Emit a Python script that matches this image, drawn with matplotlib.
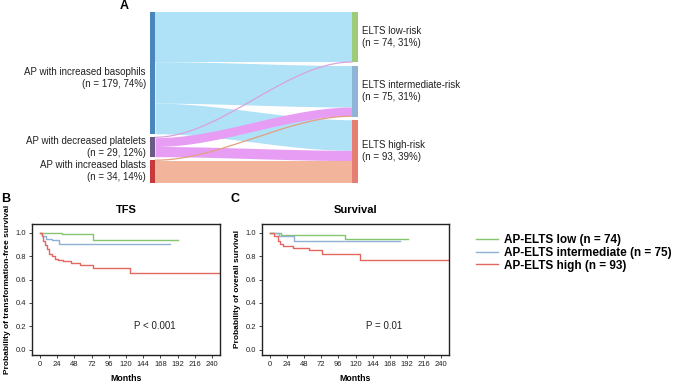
import numpy as np
import matplotlib
matplotlib.use('Agg')
import matplotlib.pyplot as plt

plt.rcParams['font.family'] = ['Liberation Sans', 'DejaVu Sans']

# Sankey data (panel A)
sources = ['AP with increased basophils', 'AP with decreased platelets', 'AP with increased blasts']
source_n = [179, 29, 34]
source_pct = [74, 12, 14]
targets = ['ELTS low-risk', 'ELTS intermediate-risk', 'ELTS high-risk']
target_n = [74, 75, 93]
target_pct = [31, 31, 39]
# flows[source][target]
flows = [[73, 61, 45],
         [1, 13, 15],
         [0, 1, 33]]

# Kaplan-Meier curves (months, probability)
tfs_low_t = [0, 31, 74, 192]
tfs_low_s = [1.0, 0.986, 0.94, 0.94]
tfs_int_t = [0, 3, 8, 17, 27, 182]
tfs_int_s = [1.0, 0.97, 0.95, 0.935, 0.90, 0.90]
tfs_high_t = [0, 2.8, 4.6, 6.5, 9.3, 13, 16.7, 20.9, 25.6, 32.6, 44, 56, 74, 126, 251]
tfs_high_s = [1.0, 0.97, 0.93, 0.895, 0.857, 0.82, 0.80, 0.78, 0.765, 0.757, 0.743, 0.726, 0.70, 0.655, 0.655]

os_low_t = [0, 16, 105, 193]
os_low_s = [1.0, 0.985, 0.943, 0.943]
os_int_t = [0, 13.5, 33.5, 183]
os_int_s = [1.0, 0.97, 0.93, 0.93]
os_high_t = [0, 6.5, 11.2, 14.9, 18.2, 32, 55, 73, 126, 251]
os_high_s = [1.0, 0.97, 0.93, 0.905, 0.885, 0.87, 0.85, 0.82, 0.765, 0.765]

legend_labels = ['AP-ELTS low (n = 74)', 'AP-ELTS intermediate (n = 75)', 'AP-ELTS high (n = 93)']
km_colors = ['#86c46f', '#8fb1d3', '#e2675e']

src_node_colors = ['#4a86bb', '#6b5a86', '#c73a3c']
src_flow_colors = ['#afe1f7', '#e89df4', '#f2b59c']
src_thin_colors = ['#9fd0ea', '#d9a2dc', '#e3a07f']
tgt_node_colors = ['#9ccb79', '#8fb4d6', '#e57e73']

fig = plt.figure(figsize=(6.75, 3.83), dpi=100)

# ---- Panel A: sankey drawn in pixel coordinates
ax_s = fig.add_axes([0, 0, 1, 1])
ax_s.set_xlim(0, 675)
ax_s.set_ylim(383, 0)
ax_s.axis('off')

top, bottom, gap = 12, 183, 3.2
scale = (bottom - top - 2 * gap) / sum(source_n)
xl0, xl1 = 150, 155
xr0, xr1 = 352, 357.5

def node_positions(counts):
    pos = []
    y = top
    for c in counts:
        pos.append(y)
        y += c * scale + gap
    return pos

src_y = node_positions(source_n)
tgt_y = node_positions(target_n)

# stack flows inside each node: by target on the left, by source on the right
src_off = list(src_y)
tgt_off = list(tgt_y)
bands = []
for i in range(3):
    for j in range(3):
        v = flows[i][j]
        if v == 0:
            continue
        bands.append((i, j, src_off[i], v))
        src_off[i] += v * scale
tgt_start = {}
for j in range(3):
    for i in range(3):
        v = flows[i][j]
        if v == 0:
            continue
        tgt_start[(i, j)] = tgt_off[j]
        tgt_off[j] += v * scale

xs = np.linspace(xl1, xr0, 200)
t = (xs - xl1) / (xr0 - xl1)
sm = 3 * t ** 2 - 2 * t ** 3
for i, j, y0, v in bands:
    y1 = tgt_start[(i, j)]
    h = v * scale
    ytop = y0 + (y1 - y0) * sm
    if v <= 1:
        ax_s.plot(xs, ytop + h / 2, color=src_thin_colors[i], lw=0.9, zorder=2 + i)
    else:
        ax_s.fill_between(xs, ytop, ytop + h, color=src_flow_colors[i], lw=0, zorder=1 + i)

for i in range(3):
    h = source_n[i] * scale
    ax_s.fill_between([xl0, xl1], src_y[i], src_y[i] + h, color=src_node_colors[i], lw=0, zorder=5)
    ax_s.text(xl0 - 4, src_y[i] + h / 2 + (5 if i == 0 else 0),
              f'{sources[i]}\n(n = {source_n[i]}, {source_pct[i]}%)',
              ha='right', va='center', fontsize=7, color='#222222', linespacing=1.25)
for j in range(3):
    h = target_n[j] * scale
    ax_s.fill_between([xr0, xr1], tgt_y[j], tgt_y[j] + h, color=tgt_node_colors[j], lw=0, zorder=5)
    ax_s.text(xr1 + 4, tgt_y[j] + h / 2, f'{targets[j]}\n(n = {target_n[j]}, {target_pct[j]}%)',
              ha='left', va='center', fontsize=7, color='#222222', linespacing=1.25)

fig.text(124 / 675, 1 - 6 / 383, 'A', fontsize=9, fontweight='bold', ha='center', va='center')
fig.text(6 / 675, 1 - 199 / 383, 'B', fontsize=9, fontweight='bold', ha='center', va='center')
fig.text(235 / 675, 1 - 199 / 383, 'C', fontsize=9, fontweight='bold', ha='center', va='center')

# ---- Panels B and C: Kaplan-Meier
def km_panel(rect, curves, title, ylabel, ptext):
    ax = fig.add_axes(rect)
    handles = []
    for (tt, ss), col in zip(curves, km_colors):
        h, = ax.step(tt, ss, where='post', color=col, lw=1.0)
        handles.append(h)
    ax.set_xlim(-11, 251)
    ax.set_ylim(-0.045, 1.075)
    ax.set_xticks(np.arange(0, 241, 24))
    ax.set_yticks(np.arange(0, 1.01, 0.2))
    ax.yaxis.set_major_formatter(plt.FormatStrFormatter('%.1f'))
    ax.tick_params(labelsize=5.5, length=2.5, width=0.6, pad=2, colors='#222222')
    for sp in ax.spines.values():
        sp.set_linewidth(1.0)
        sp.set_color('#222222')
    ax.set_title(title, fontsize=8, fontweight='bold', pad=8)
    ax.set_ylabel(ylabel, fontsize=6, fontweight='bold', labelpad=3)
    ax.set_xlabel('Months', fontsize=6.3, fontweight='bold', labelpad=4)
    ax.text(160, 0.2, ptext, fontsize=7, ha='center', va='center', color='#222222')
    return handles

handles = km_panel([32 / 675, 1 - 355 / 383, 188 / 675, 131 / 383],
                   [(tfs_low_t, tfs_low_s), (tfs_int_t, tfs_int_s), (tfs_high_t, tfs_high_s)],
                   'TFS', 'Probability of transformation-free survival', 'P < 0.001')
km_panel([262 / 675, 1 - 355 / 383, 187 / 675, 131 / 383],
         [(os_low_t, os_low_s), (os_int_t, os_int_s), (os_high_t, os_high_s)],
         'Survival', 'Probability of overall survival', 'P = 0.01')

fig.legend(handles, legend_labels, loc='center left', bbox_to_anchor=(476 / 675, 1 - 253 / 383),
           frameon=False, prop={'weight': 'bold', 'size': 8.5}, handlelength=1.9,
           handletextpad=0.5, labelspacing=0.05, borderpad=0, borderaxespad=0)

fig.savefig('out.png', dpi=100)
